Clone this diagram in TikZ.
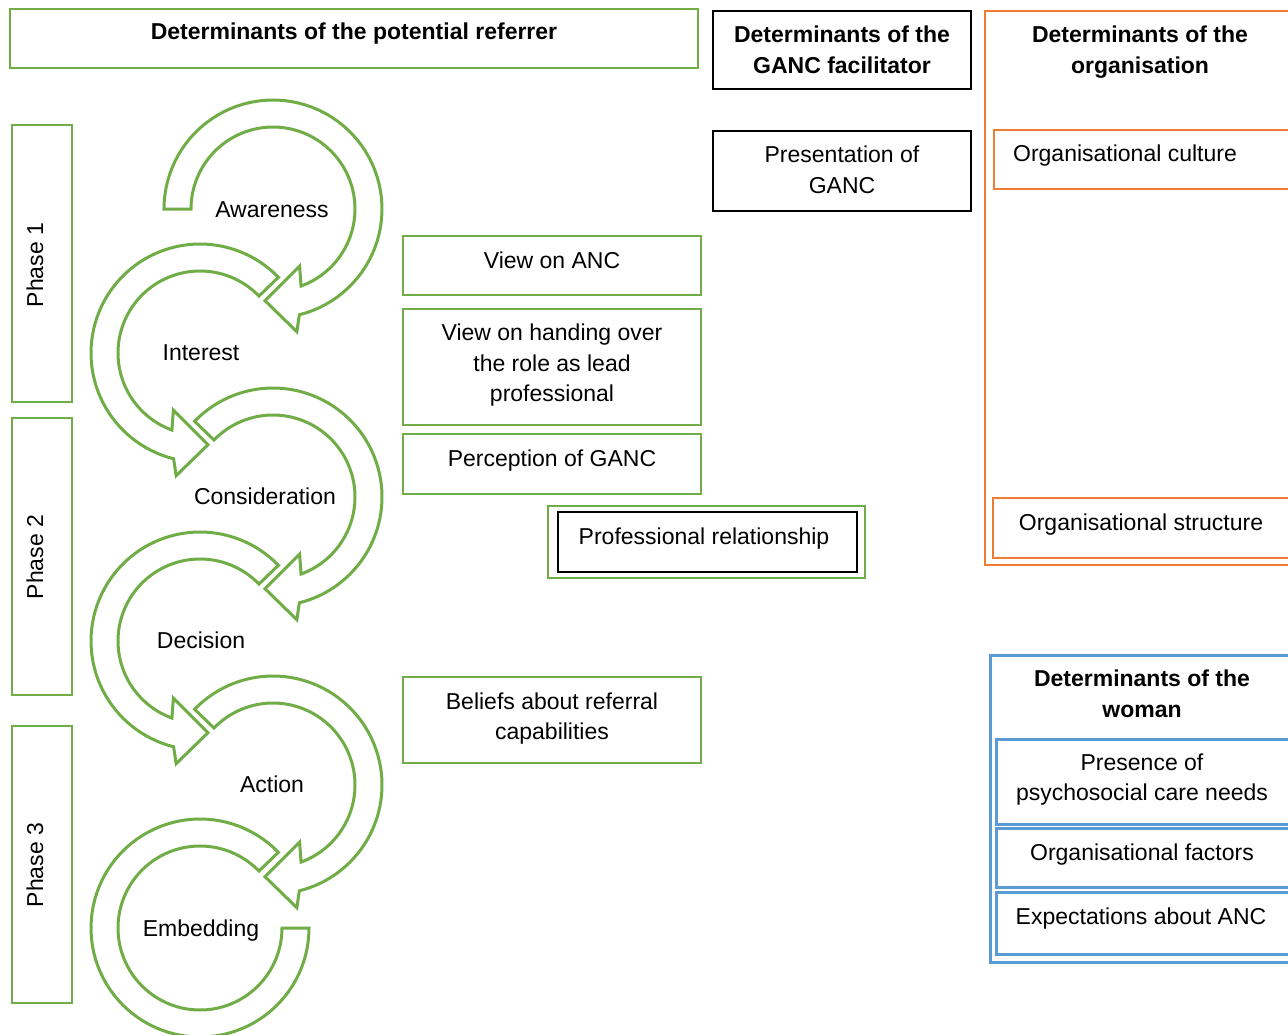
\documentclass[tikz,border=0pt]{standalone}
\usepackage{fontspec}
\setmainfont{Liberation Sans}
\definecolor{grn}{HTML}{70AD47}
\definecolor{org}{HTML}{ED7D31}
\definecolor{blu}{HTML}{5B9BD5}
\newcommand\cwArrow[3]{%
 \draw[arrowband] plot[domain=#3:436,samples=70] ({#1+109*cos(\x)},{#2+109*sin(\x)})
  -- ({#1+125*cos(439)},{#2+125*sin(439)})
  -- ({#1+92*cos(455)},{#2+92*sin(455)})
  -- ({#1+63*cos(425)},{#2+63*sin(425)})
  -- ({#1+82*cos(430)},{#2+82*sin(430)})
  -- plot[domain=430:#3,samples=70] ({#1+82*cos(\x)},{#2+82*sin(\x)}) -- cycle;}
\newcommand\ccwArrow[3]{%
 \draw[arrowband] plot[domain=#3:-256,samples=70] ({#1+109*cos(\x)},{#2+109*sin(\x)})
  -- ({#1+125*cos(-259)},{#2+125*sin(-259)})
  -- ({#1+92*cos(-275)},{#2+92*sin(-275)})
  -- ({#1+63*cos(-245)},{#2+63*sin(-245)})
  -- ({#1+82*cos(-250)},{#2+82*sin(-250)})
  -- plot[domain=-250:#3,samples=70] ({#1+82*cos(\x)},{#2+82*sin(\x)}) -- cycle;}
\begin{document}
\begin{tikzpicture}[x=1pt,y=-1pt,
  arrowband/.style={draw=grn,line width=3pt,fill=white,line join=miter},
  gbox/.style={draw=grn,line width=2.5pt,inner sep=0pt,rectangle},
  kbox/.style={draw=black,line width=2.5pt,inner sep=0pt,rectangle},
  obox/.style={draw=org,line width=2.5pt,inner sep=0pt,rectangle},
  bbox/.style={draw=blu,line width=3pt,inner sep=0pt,rectangle},
  txt/.style={font=\fontsize{23}{30.5}\selectfont,align=center,inner sep=0pt},
  btxt/.style={font=\fontsize{23}{30.5}\selectfont\bfseries,align=center,inner sep=0pt}]
\useasboundingbox (0,0) rectangle (1288,1034);
\fill[white] (0,0) rectangle (1288,1034);

% circular arrows
\cwArrow{273}{209}{180}
\ccwArrow{200}{353}{-44}
\cwArrow{273}{497}{224}
\ccwArrow{200}{641}{-44}
\cwArrow{273}{785}{224}
\draw[arrowband] plot[domain=-44:-360,samples=90] ({200+109*cos(\x)},{928+109*sin(\x)})
  -- ({200+82*cos(-360)},{928+82*sin(-360)})
  -- plot[domain=-360:-44,samples=90] ({200+82*cos(\x)},{928+82*sin(\x)}) -- cycle;

\node[txt] (aw) at (272,210) {Awareness};
\node[txt] (in) at (201,353) {Interest};
\node[txt] (co) at (265,496) {Consideration};
\node[txt] (de) at (201,640) {Decision};
\node[txt] (ac) at (272,784) {Action};
\node[txt] (em) at (201,931) {Embedding};

% phases
\node[gbox,minimum width=60pt,minimum height=277pt] (ph1) at (42,263.5) {};
\node[gbox,minimum width=60pt,minimum height=277pt] (ph2) at (42,556.5) {};
\node[gbox,minimum width=60pt,minimum height=277pt] (ph3) at (42,864.5) {};
\node[txt,rotate=90] (ph1t) at (35,265) {Phase 1};
\node[txt,rotate=90] (ph2t) at (35,557) {Phase 2};
\node[txt,rotate=90] (ph3t) at (35,865) {Phase 3};

% referrer
\node[gbox,minimum width=688pt,minimum height=59pt] (ref) at (354,38.5) {};
\node[btxt] (reft) at (354,34) {Determinants of the potential referrer};
\node[gbox,minimum width=298pt,minimum height=59pt] (vanc) at (552,265.5) {};
\node[txt] (vanct) at (552,260) {View on ANC};
\node[gbox,minimum width=298pt,minimum height=116pt] (vhand) at (552,367) {};
\node[txt] (vhandt) at (552,365.5) {View on handing over\\the role as lead\\professional};
\node[gbox,minimum width=298pt,minimum height=60pt] (perc) at (552,464) {};
\node[txt] (perct) at (552,461) {Perception of GANC};
\node[gbox,minimum width=317pt,minimum height=72pt] (profo) at (706.5,542) {};
\node[kbox,minimum width=299pt,minimum height=60pt] (profi) at (707.5,542) {};
\node[txt] (proft) at (704,539) {Professional relationship};
\node[gbox,minimum width=298pt,minimum height=86pt] (bel) at (552,720) {};
\node[txt] (belt) at (552,718.5) {Beliefs about referral\\capabilities};

% facilitator
\node[kbox,minimum width=258pt,minimum height=78pt] (fac) at (842,50) {};
\node[btxt] (fact) at (842,50) {Determinants of the\\GANC facilitator};
\node[kbox,minimum width=258pt,minimum height=80pt] (pres) at (842,171) {};
\node[txt] (prest) at (842,170) {Presentation of\\GANC};

% organisation
\node[obox,minimum width=310pt,minimum height=554pt] (org) at (1140,288) {};
\node[btxt] (orgt) at (1140,52) {Determinants of the\\organisation};
\node[obox,minimum width=301pt,minimum height=59pt] (ocul) at (1144.5,159.5) {};
\node[txt] (ocult) at (1125,156) {Organisational culture};
\node[obox,minimum width=302pt,minimum height=60pt] (ostr) at (1144,528) {};
\node[txt] (ostrt) at (1141,525) {Organisational structure};

% woman
\node[bbox,minimum width=305pt,minimum height=307pt] (wom) at (1142.5,808.5) {};
\node[btxt] (womt) at (1142,694) {Determinants of the\\woman};
\node[bbox,minimum width=299pt,minimum height=85pt] (psy) at (1145.5,781.5) {};
\node[txt] (psyt) at (1142,779.5) {Presence of\\psychosocial care needs};
\node[bbox,minimum width=299pt,minimum height=59pt] (ofac) at (1145.5,857.5) {};
\node[txt] (ofact) at (1142,855) {Organisational factors};
\node[bbox,minimum width=299pt,minimum height=62pt] (exp) at (1145.5,923) {};
\node[txt] (expt) at (1141,919) {Expectations about ANC};
\end{tikzpicture}
\end{document}
